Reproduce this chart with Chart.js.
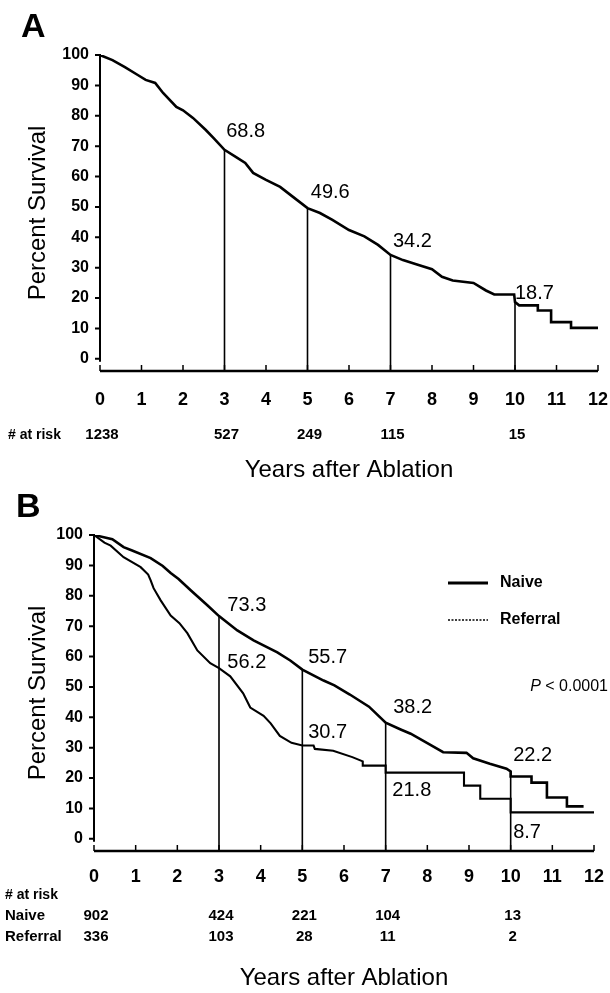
<!DOCTYPE html>
<html>
<head>
<meta charset="utf-8">
<title>Survival after ablation</title>
<script src="https://cdn.jsdelivr.net/npm/chart.js@4.4.1/dist/chart.umd.min.js"></script>
<style>
  body { margin: 0; background: #fff; }
  #page { position: relative; width: 610px; height: 993px; overflow: hidden;
          font-family: "Liberation Sans", Arial, sans-serif; }
  #page canvas { position: absolute; left: 0; }
  .tag { position: absolute; font-size: 34px; line-height: 1; font-weight: bold; color: #000; }
</style>
</head>
<body>
<div id="page">
  <canvas id="chartA" width="610" height="485" style="top:0"></canvas>
  <canvas id="chartB" width="610" height="508" style="top:485px"></canvas>
  <div class="tag" style="left:21px;top:8px">A</div>
  <div class="tag" style="left:16px;top:488px">B</div>
</div>
<script>
// axis ticks
const yearTicks = [0, 1, 2, 3, 4, 5, 6, 7, 8, 9, 10, 11, 12];
const percentTicks = [0, 10, 20, 30, 40, 50, 60, 70, 80, 90, 100];

// panel A - all patients (repeated year = vertical drop)
const yearsAll = [0, 0.3, 0.6, 0.9, 1.1, 1.33, 1.52, 1.84, 2.0, 2.24, 2.55, 2.75, 3.0, 3.28, 3.5, 3.69,
  4.0, 4.34, 4.65, 5.0, 5.3, 5.6, 6.0, 6.37, 6.7, 7.0, 7.3, 7.6, 8.0, 8.24, 8.5, 9.0, 9.3, 9.5,
  9.98, 10.0, 10.1, 10.55, 10.55, 10.87, 10.87, 11.35, 11.35, 12.0];
const survivalAll = [100, 98.3, 96, 93.5, 91.8, 90.8, 87.5, 82.9, 81.8, 79.3, 75.3, 72.5, 68.8, 66.4, 64.5, 61.2,
  58.9, 56.6, 53.3, 49.6, 48, 45.7, 42.4, 40.3, 37.5, 34.2, 32.5, 31.2, 29.5, 27, 25.8, 25, 22.5, 21.2,
  21.2, 18.7, 17.6, 17.6, 15.9, 15.9, 12.1, 12.1, 10.2, 10.2];

// panel B - naive vs referral
const yearsNaive = [0, 0.44, 0.71, 0.9, 1.36, 1.65, 1.84, 2.03, 2.32, 2.72, 3.0, 3.44, 3.83, 4.4, 4.71,
  5.0, 5.51, 5.77, 6.14, 6.6, 7.0, 7.36, 7.6, 8.0, 8.38, 8.94, 9.1, 9.5, 9.9, 10.0, 10.0, 10.5, 10.5,
  10.87, 10.87, 11.35, 11.35, 11.75];
const survivalNaive = [100, 98.6, 96, 95, 92.4, 89.8, 87.5, 85.5, 81.8, 76.9, 73.3, 68.6, 65.3, 61.4, 58.7,
  55.7, 52.1, 50.5, 47.5, 43.5, 38.2, 36, 34.6, 31.5, 28.5, 28.3, 26.5, 24.7, 23.1, 22.2, 20.5, 20.5, 18.5,
  18.5, 13.6, 13.6, 10.7, 10.7];
const yearsReferral = [0, 0.25, 0.4, 0.71, 1.12, 1.3, 1.36, 1.43, 1.6, 1.84, 2.05, 2.24, 2.48, 2.79, 3.0,
  3.27, 3.58, 3.75, 4.07, 4.24, 4.46, 4.74, 5.0, 5.27, 5.3, 5.74, 6.2, 6.45, 6.45, 7.0, 7.0, 8.88, 8.88,
  9.27, 9.27, 10.0, 10.0, 12.0];
const survivalReferral = [100, 97.5, 96.5, 92.7, 89.4, 87, 85.1, 82.5, 78.5, 73.5, 71, 67.7, 62, 57.8, 56.2,
  53.5, 47.9, 43.2, 40.5, 38, 33.9, 31.6, 30.7, 30.7, 29.6, 29, 26.9, 25.5, 24.1, 24.1, 21.8, 21.8, 17.5,
  17.5, 13.2, 13.2, 8.7, 8.7];

// survival read at 3, 5, 7 and 10 years
const milestoneYears = [3, 5, 7, 10];
const milestoneAll = [68.8, 49.6, 34.2, 18.7];
const milestoneNaive = [73.3, 55.7, 38.2, 22.2];
const milestoneReferral = [56.2, 30.7, 21.8, 8.7];

// number at risk
const riskYears = [0, 3, 5, 7, 10];
const atRiskAll = [1238, 527, 249, 115, 15];
const atRiskNaive = [902, 424, 221, 104, 13];
const atRiskReferral = [336, 103, 28, 11, 2];

// where the milestone numbers sit (year, percent)
const spotsAll = [[3.04, 74.7], [5.08, 54.6], [7.06, 38.5], [10.0, 21.4]];
const spotsNaive = [[3.2, 76.9], [5.14, 59.7], [7.18, 43.2], [10.06, 27.4]];
const spotsReferral = [[3.2, 58.1], [5.14, 35], [7.16, 15.8], [10.06, 2]];

const FONT = '"Liberation Sans", Arial, sans-serif';
Chart.defaults.font.family = FONT;
Chart.defaults.color = '#000';

function points(xs, ys) {
  return xs.map((t, i) => ({x: t, y: ys[i]}));
}

function tagLabels(values, spots) {
  return values.map((v, i) => ({text: v.toFixed(1), at: spots[i]}));
}

const kmDecor = {
  id: 'kmDecor',
  beforeDatasetsDraw(chart, args, o) {
    const {ctx, chartArea: area} = chart;
    const x = chart.scales.x, y = chart.scales.y;
    ctx.save();
    ctx.strokeStyle = '#000';

    // y axis with little ticks on the left
    ctx.lineWidth = 2;
    ctx.beginPath();
    ctx.moveTo(area.left, y.getPixelForValue(0) + 3);
    ctx.lineTo(area.left, y.getPixelForValue(100) - 1);
    percentTicks.forEach(v => {
      const py = y.getPixelForValue(v);
      ctx.moveTo(area.left - 5, py);
      ctx.lineTo(area.left, py);
    });
    ctx.stroke();

    // x axis, ticks pointing up
    ctx.lineWidth = 2.5;
    ctx.beginPath();
    ctx.moveTo(x.getPixelForValue(0), area.bottom);
    ctx.lineTo(x.getPixelForValue(12), area.bottom);
    ctx.stroke();
    ctx.lineWidth = 1.5;
    ctx.beginPath();
    yearTicks.forEach(t => {
      const px = x.getPixelForValue(t);
      ctx.moveTo(px, area.bottom);
      ctx.lineTo(px, area.bottom - 6);
    });
    ctx.stroke();

    // drop lines at the milestone years
    ctx.lineWidth = 1.6;
    ctx.beginPath();
    o.marks.forEach((t, i) => {
      const px = x.getPixelForValue(t);
      ctx.moveTo(px, area.bottom);
      ctx.lineTo(px, y.getPixelForValue(o.reach[i]));
    });
    ctx.stroke();
    ctx.restore();
  },
  afterDatasetsDraw(chart, args, o) {
    const {ctx} = chart;
    const x = chart.scales.x, y = chart.scales.y;
    ctx.save();
    ctx.fillStyle = '#000';
    ctx.textBaseline = 'middle';

    // milestone values
    ctx.font = '20px ' + FONT;
    ctx.textAlign = 'left';
    o.labels.forEach(l => {
      ctx.fillText(l.text, x.getPixelForValue(l.at[0]), y.getPixelForValue(l.at[1]));
    });

    // number at risk table
    ctx.font = 'bold 14px ' + FONT;
    ctx.fillText(o.risk.header, o.risk.headerX, o.risk.headerY);
    o.risk.rows.forEach(r => {
      ctx.textAlign = 'left';
      ctx.font = 'bold 15px ' + FONT;
      if (r.name) ctx.fillText(r.name, o.risk.headerX, r.y);
      ctx.textAlign = 'center';
      r.counts.forEach((n, i) => {
        ctx.fillText(String(n), x.getPixelForValue(riskYears[i]) + 2, r.y);
      });
    });

    // legend
    if (o.legend) {
      ctx.font = 'bold 16px ' + FONT;
      ctx.textAlign = 'left';
      o.legend.forEach((item, i) => {
        const ds = chart.data.datasets[i];
        ctx.strokeStyle = '#000';
        ctx.lineWidth = item.width;
        ctx.setLineDash(item.dash);
        ctx.beginPath();
        ctx.moveTo(item.x, item.y);
        ctx.lineTo(item.x + 40, item.y);
        ctx.stroke();
        ctx.setLineDash([]);
        ctx.fillText(ds.label, item.x + 52, item.y);
      });
    }

    // p value, italic P
    if (o.pValue) {
      ctx.font = '16px ' + FONT;
      const rest = ' < 0.0001';
      const w2 = ctx.measureText(rest).width;
      ctx.font = 'italic 16px ' + FONT;
      const w1 = ctx.measureText('P').width;
      ctx.textAlign = 'left';
      const x0 = o.pValue.x - w1 - w2;
      ctx.fillText('P', x0, o.pValue.y);
      ctx.font = '16px ' + FONT;
      ctx.fillText(rest, x0 + w1, o.pValue.y);
    }
    ctx.restore();
  }
};

function makeChart(id, datasets, frame, decor) {
  return new Chart(document.getElementById(id), {
    type: 'line',
    data: {datasets: datasets},
    plugins: [kmDecor],
    options: {
      responsive: false,
      animation: false,
      devicePixelRatio: 1,
      events: [],
      layout: {padding: {top: frame.top, right: frame.right, bottom: 0, left: 0}},
      elements: {point: {radius: 0}, line: {tension: 0}},
      plugins: {
        legend: {display: false},
        tooltip: {enabled: false},
        kmDecor: decor
      },
      scales: {
        x: {
          type: 'linear',
          min: 0,
          max: 12,
          afterBuildTicks: s => { s.ticks = yearTicks.map(v => ({value: v})); },
          afterFit: s => {
            s.height = frame.xHeight;
            s.paddingLeft = 0;
            s.paddingRight = 0;
          },
          grid: {display: false, drawTicks: false},
          border: {display: false},
          ticks: {font: {size: 18, weight: 'bold'}, color: '#000', padding: frame.tickPad,
                  maxRotation: 0, autoSkip: false},
          title: {display: true, text: 'Years after Ablation', color: '#000',
                  font: {size: 24}, padding: {top: 0, bottom: 0}}
        },
        y: {
          min: -4,
          max: 100,
          afterBuildTicks: s => { s.ticks = percentTicks.map(v => ({value: v})); },
          afterFit: s => { s.width = frame.left; },
          grid: {display: false, drawTicks: false},
          border: {display: false},
          ticks: {font: {size: 16, weight: 'bold'}, color: '#000', padding: 11},
          title: {display: true, text: 'Percent Survival', color: '#000',
                  font: {size: 24}, padding: {top: 24, bottom: 0}}
        }
      }
    }
  });
}

makeChart('chartA', [
  {label: 'All patients', data: points(yearsAll, survivalAll), borderColor: '#000',
   borderWidth: 2.6, fill: false}
], {top: 55, right: 12, left: 100, xHeight: 114, tickPad: 18}, {
  marks: milestoneYears,
  reach: milestoneAll,
  labels: tagLabels(milestoneAll, spotsAll),
  risk: {header: '# at risk', headerX: 8, headerY: 435,
         rows: [{name: '', y: 435, counts: atRiskAll}]}
});

makeChart('chartB', [
  {label: 'Naive', data: points(yearsNaive, survivalNaive), borderColor: '#000',
   borderWidth: 2.6, fill: false},
  {label: 'Referral', data: points(yearsReferral, survivalReferral), borderColor: '#000',
   borderWidth: 2.1, fill: false}
], {top: 50, right: 16, left: 94, xHeight: 142, tickPad: 15}, {
  marks: milestoneYears,
  reach: milestoneNaive,
  labels: tagLabels(milestoneNaive, spotsNaive).concat(tagLabels(milestoneReferral, spotsReferral)),
  risk: {header: '# at risk', headerX: 5, headerY: 410,
         rows: [{name: 'Naive', y: 431, counts: atRiskNaive},
                {name: 'Referral', y: 452, counts: atRiskReferral}]},
  legend: [{x: 448, y: 98, width: 3, dash: []},
           {x: 448, y: 135, width: 1.5, dash: [2, 1.5]}],
  pValue: {x: 608, y: 202}
});
</script>
</body>
</html>
